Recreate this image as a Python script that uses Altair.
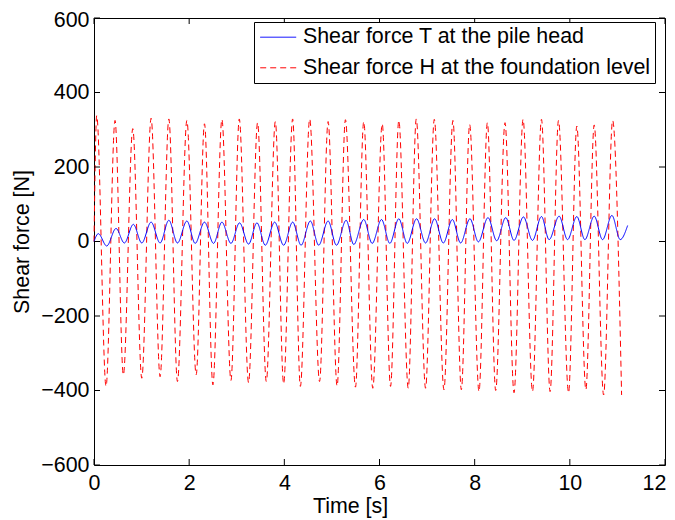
import altair as alt
import pandas as pd

# ---- data ----
names = ["Shear force T at the pile head", "Shear force H at the foundation level"]

# Shear force H (red, dashed): successive maxima / minima
h_peak_t = [0.057, 0.442, 0.815, 1.200, 1.573, 1.952, 2.322, 2.688, 3.053, 3.438,
            3.811, 4.175, 4.533, 4.920, 5.284, 5.669, 6.057, 6.406, 6.773, 7.152,
            7.543, 7.895, 8.267, 8.638, 9.017, 9.404, 9.762, 10.147, 10.512, 10.899]
h_peak_v = [338, 325, 303, 331, 329, 325, 316, 328, 329, 319,
            322, 329, 329, 322, 327, 322, 316, 325, 329, 328,
            325, 314, 319, 319, 328, 328, 325, 310, 313, 325]
h_trough_t = [0.253, 0.617, 1.004, 1.389, 1.754, 2.147, 2.499, 2.878, 3.248, 3.621,
              3.985, 4.337, 4.740, 5.109, 5.495, 5.859, 6.232, 6.604, 6.968, 7.354,
              7.720, 8.091, 8.442, 8.827, 9.215, 9.585, 9.973, 10.337, 10.710, 11.088]
h_trough_v = [-389, -358, -367, -363, -376, -358, -385, -373, -379, -376,
              -382, -389, -376, -388, -391, -394, -389, -394, -394, -398,
              -398, -403, -400, -406, -403, -403, -406, -398, -412, -412]
h_start_t, h_start_v = [0.0], [0]

# Shear force T (blue, solid): successive maxima / minima
t_peak_t = [0.091, 0.463, 0.827, 1.200, 1.573, 1.952, 2.322, 2.688, 3.059, 3.425,
            3.796, 4.175, 4.547, 4.920, 5.299, 5.669, 6.042, 6.406, 6.779, 7.158,
            7.531, 7.901, 8.280, 8.653, 9.025, 9.404, 9.775, 10.147, 10.512, 10.884]
t_peak_v = [21, 35, 46, 52, 57, 55, 52, 52, 50, 50,
            52, 52, 55, 55, 57, 59, 59, 61, 61, 61,
            59, 61, 64, 64, 66, 67, 68, 67, 68, 70]
t_trough_t = [0.267, 0.638, 1.004, 1.389, 1.754, 2.126, 2.512, 2.878, 3.248, 3.600,
              3.985, 4.352, 4.722, 5.095, 5.459, 5.846, 6.217, 6.583, 6.968, 7.341,
              7.705, 8.078, 8.463, 8.827, 9.215, 9.564, 9.952, 10.316, 10.688, 11.059]
t_trough_v = [-12, -4, -4, -4, -4, -5, -5, -5, -7, -10,
              -10, -10, -10, -10, -8, -5, -5, -5, -4, -4,
              -4, -1, 2, 3, 3, 5, 5, 5, 5, 5]
t_end_t, t_end_v = [0.0, 11.215], [0, 43]

xticks = [0, 2, 4, 6, 8, 10, 12]
yticks = [-600, -400, -200, 0, 200, 400, 600]

# ---- table ----
def part(series, ts, vs):
    return pd.DataFrame({"series": series, "t": ts, "v": vs})

df = pd.concat([
    part(names[1], h_start_t + h_peak_t + h_trough_t, h_start_v + h_peak_v + h_trough_v),
    part(names[0], t_end_t + t_peak_t + t_trough_t, t_end_v + t_peak_v + t_trough_v),
]).sort_values(["series", "t"]).reset_index(drop=True)
df["order"] = df["t"]

W, H = 571, 447
FONT = "Liberation Sans"
FS = 21.4

# legend symbol: a horizontal stroke 36 px long, starting at the entry's left edge
legend = alt.Legend(
    title=None, orient="none", legendX=160, legendY=4, direction="vertical",
    symbolType="M-1,0H3", symbolSize=324, symbolStrokeWidth=1,
    labelFont=FONT, labelFontSize=FS, labelColor="black", labelLimit=600,
    labelOffset=23, strokeColor="black", fillColor="white", padding=4.5,
    rowPadding=7.6, cornerRadius=0,
)

xscale = alt.Scale(domain=[0, 12], nice=False, zero=False)
yscale = alt.Scale(domain=[-600, 600], nice=False)

lines = alt.Chart(df).mark_line(strokeWidth=1, interpolate="monotone").encode(
    x=alt.X("t:Q", scale=xscale,
            axis=alt.Axis(values=xticks, title="Time [s]", grid=False, domain=False,
                          ticks=False, tickSize=0, labelPadding=7, labelFontSize=FS,
                          titleFontSize=FS, titleFontWeight="normal", labelFont=FONT,
                          titleFont=FONT, labelColor="black", titleColor="black",
                          titleX=256, titleY=47, titleBaseline="alphabetic",
                          labelFlush=False,
                          labelOffset=alt.condition("datum.value == 12", alt.value(-11), alt.value(0)))),
    y=alt.Y("v:Q", scale=yscale,
            axis=alt.Axis(values=yticks, title="Shear force [N]", grid=False, domain=False,
                          ticks=False, tickSize=0, labelPadding=5, labelFontSize=FS,
                          titleFontSize=FS, titleFontWeight="normal", labelFont=FONT,
                          titleFont=FONT, labelColor="black", titleColor="black",
                          titleX=-72, titleY=H / 2, titleBaseline="middle",
                          labelFlush=False,
                          labelOffset=alt.condition("datum.value == 600", alt.value(2), alt.value(0)))),
    color=alt.Color("series:N", scale=alt.Scale(domain=names, range=["#0000ff", "#ff0000"]),
                    legend=legend),
    strokeDash=alt.StrokeDash("series:N", scale=alt.Scale(domain=names, range=[[1, 0], [6, 4]]),
                              legend=legend),
    order="order:Q",
)

xt = pd.DataFrame({"t": xticks})
yt = pd.DataFrame({"v": yticks})
TL = 6
tick_b = alt.Chart(xt).mark_rule(color="black", strokeWidth=1).encode(
    x=alt.X("t:Q", scale=xscale), y=alt.value(H), y2=alt.value(H - TL))
tick_t = alt.Chart(xt).mark_rule(color="black", strokeWidth=1).encode(
    x=alt.X("t:Q", scale=xscale), y=alt.value(0), y2=alt.value(TL))
tick_l = alt.Chart(yt).mark_rule(color="black", strokeWidth=1).encode(
    y=alt.Y("v:Q", scale=yscale), x=alt.value(0), x2=alt.value(TL))
tick_r = alt.Chart(yt).mark_rule(color="black", strokeWidth=1).encode(
    y=alt.Y("v:Q", scale=yscale), x=alt.value(W), x2=alt.value(W - TL))

chart = alt.layer(lines, tick_b, tick_t, tick_l, tick_r).properties(
    width=W, height=H,
    autosize=alt.AutoSizeParams(type="none"),
    padding={"left": 86, "top": 10, "right": 2, "bottom": 54},
    background="white",
).configure(font=FONT).configure_view(stroke="black", strokeWidth=1)

chart.save("out.html", embed_options={"renderer": "svg", "actions": False})
